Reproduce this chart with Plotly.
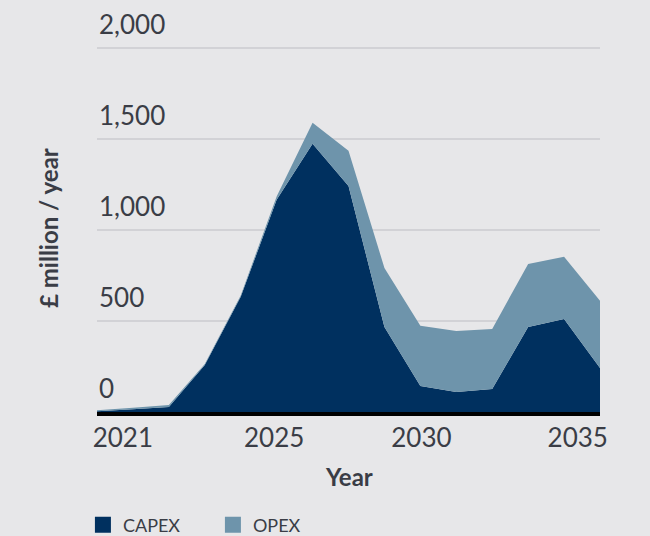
import plotly.graph_objects as go

years = list(range(2021, 2036))
capex = [4, 15, 28, 258, 632, 1165, 1473, 1240, 467, 143, 110, 126, 467, 511, 242]
opex = [6, 9, 10, 6, 8, 18, 115, 194, 324, 330, 335, 330, 346, 341, 368]

y_ticks = [0, 500, 1000, 1500, 2000]
y_tick_labels = ["0", "500", "1,000", "1,500", "2,000"]
x_tick_labels = ["2021", "2025", "2030", "2035"]
x_tick_pos = [2021.72, 2025.93, 2030.03, 2034.38]

CAPEX_COLOR = "#00305f"
OPEX_COLOR = "#6e94ab"
TEXT_COLOR = "#3a3d46"
BG = "#e7e7e9"
FONT = "Lato"

fig = go.Figure()
fig.add_trace(go.Scatter(x=years, y=capex, stackgroup="one", mode="none",
                         fillcolor=CAPEX_COLOR, name="CAPEX", showlegend=False))
fig.add_trace(go.Scatter(x=years, y=opex, stackgroup="one", mode="none",
                         fillcolor=OPEX_COLOR, name="OPEX", showlegend=False))
# legend entries
fig.add_trace(go.Scatter(x=[None], y=[None], mode="markers", name="CAPEX",
                         marker=dict(symbol="square", size=19, color=CAPEX_COLOR)))
fig.add_trace(go.Scatter(x=[None], y=[None], mode="markers", name="OPEX",
                         marker=dict(symbol="square", size=19, color=OPEX_COLOR)))

annotations = []
for v, t in zip(y_ticks, y_tick_labels):
    annotations.append(dict(x=0, xref="paper", y=v, yref="y", text=t, showarrow=False,
                            xanchor="left", yanchor="bottom", yshift=6,
                            font=dict(family=FONT, size=26, color=TEXT_COLOR)))
annotations.append(dict(x=0.5, xref="paper", y=-0.1766, yref="paper", text="<b>Year</b>",
                        showarrow=False, xanchor="center", yanchor="middle",
                        font=dict(family=FONT, size=24, color=TEXT_COLOR)))
annotations.append(dict(x=-0.0974, xref="paper", y=0.5, yref="paper",
                        text="<b>£ million / year</b>", textangle=-90,
                        showarrow=False, xanchor="center", yanchor="middle",
                        font=dict(family=FONT, size=24, color=TEXT_COLOR)))

fig.update_layout(
    width=650, height=536,
    margin=dict(l=97, r=50, t=44, b=124, autoexpand=False),
    paper_bgcolor=BG, plot_bgcolor=BG,
    font=dict(family=FONT, color=TEXT_COLOR),
    annotations=annotations,
    legend=dict(orientation="h", x=-0.028, xanchor="left", y=-0.257, yanchor="top",
                traceorder="normal", entrywidth=85, entrywidthmode="pixels",
                font=dict(family=FONT, size=18, color=TEXT_COLOR),
                bgcolor="rgba(0,0,0,0)"),
    xaxis=dict(range=[2021, 2035], showgrid=False, zeroline=False,
               showline=True, linecolor="black", linewidth=3.5,
               tickmode="array", tickvals=x_tick_pos, ticktext=x_tick_labels,
               ticks="", tickfont=dict(family=FONT, size=26, color=TEXT_COLOR),
               fixedrange=True),
    yaxis=dict(range=[0, 2020], showgrid=True, gridcolor="#d2d2d6", gridwidth=2,
               zeroline=False, showline=False, tickmode="array", tickvals=y_ticks,
               showticklabels=False, ticks="", fixedrange=True),
)

fig.write_html("out.html", config={"displayModeBar": False},
               post_script="document.body.style.margin='0';")
